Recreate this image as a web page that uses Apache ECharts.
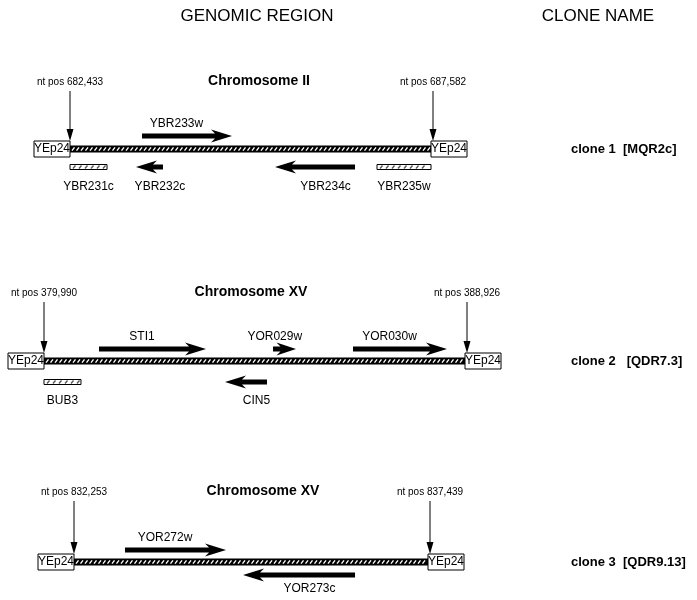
<!DOCTYPE html>
<html>
<head>
<meta charset="utf-8">
<script src="https://cdn.jsdelivr.net/npm/echarts@6/dist/echarts.min.js"></script>
<style>html,body{margin:0;padding:0;background:#fff}#c{width:697px;height:600px}</style>
</head>
<body>
<div id="c"></div>
<script>
// ---------- data ----------
const headers = ['GENOMIC REGION', 'CLONE NAME'];
const cloneNames = ['clone 1  [MQR2c]', 'clone 2   [QDR7.3]', 'clone 3  [QDR9.13]'];
const chromosomeNames = ['Chromosome II', 'Chromosome XV', 'Chromosome XV'];
const insertStart = [682433, 379990, 832253];
const insertEnd = [687582, 388926, 837439];
const vectorName = 'YEp24';
const geneNames  = ['YBR231c','YBR232c','YBR233w','YBR234c','YBR235w','BUB3','STI1','CIN5','YOR029w','YOR030w','YOR272w','YOR273c'];
const geneClone  = [0,0,0,0,0,1,1,1,1,1,2,2];
const geneStart  = [682433,683374,683460,685357,686812,379990,381157,383832,384851,386549,833000,834729];
const geneEnd    = [682961,683759,684744,686498,687582,380775,383429,384723,385339,388544,834480,836370];
const geneStrand = ['c','c','w','c','w','w','w','c','w','w','w','c'];
const genePartial= [true,false,false,false,true,true,false,false,false,false,false,false];

// ---------- layout (pixels) ----------
const layout = [
  {left:70, right:431, lineY:149, titleY:82,  titleX:259, above:-13, below:18, belowLabel:20},
  {left:44, right:465, lineY:361, titleY:293, titleX:251, above:-12, below:21, belowLabel:19},
  {left:74, right:428, lineY:564, titleY:492, titleX:263, above:-12, below:13, belowLabel:14}
];
const FONT = '"Liberation Sans", Arial, Helvetica, sans-serif';

function txt(text, x, y, size, weight, align, valign) {
  return {type:'text', silent:true, style:{text:text, x:x, y:y, fill:'#000',
    font: (weight||'normal') + ' ' + size + 'px ' + FONT,
    align: align||'center', verticalAlign: valign||'middle',
    textAlign: align||'center', textVerticalAlign: valign||'middle'}};
}

function hatch(ch, x0, x1, y, h, step, color, w) {
  for (let x = x0 + 2; x + 2 < x1; x += step) {
    ch.push({type:'line', shape:{x1:x, y1:y + h, x2:x + 2.5, y2:y - h}, style:{stroke:color, lineWidth:w}});
  }
}

function frameRender(ci) {
  return function(params, api) {
    const L = layout[ci];
    const p0 = api.coord([api.value(0), 0]);
    const p1 = api.coord([api.value(1), 0]);
    const y = p0[1];
    const x0 = p0[0], x1 = p1[0];
    const ch = [];
    // backbone
    ch.push({type:'rect', shape:{x:x0, y:y-3.5, width:x1-x0, height:7}, style:{fill:'#000'}});
    hatch(ch, x0, x1, y, 1.6, 4.5, '#fff', 1.4);
    // vector boxes
    ch.push({type:'rect', shape:{x:x0-36, y:y-8, width:36, height:16}, style:{fill:'#fff', stroke:'#000', lineWidth:1}});
    ch.push(txt(vectorName, x0-18, y, 12));
    ch.push({type:'rect', shape:{x:x1, y:y-8, width:36, height:16}, style:{fill:'#fff', stroke:'#000', lineWidth:1}});
    ch.push(txt(vectorName, x1+18, y, 12));
    // position arrows + labels
    [[x0, insertStart[ci]], [x1+2, insertEnd[ci]]].forEach(function(a) {
      const ax = a[0];
      const top = L.titleY + 9, tip = y - 8;
      ch.push({type:'line', shape:{x1:ax, y1:top, x2:ax, y2:tip-10}, style:{stroke:'#000', lineWidth:1}});
      ch.push({type:'polygon', shape:{points:[[ax-3.5, tip-12],[ax+3.5, tip-12],[ax, tip]]}, style:{fill:'#000'}});
      ch.push(txt('nt pos ' + a[1].toLocaleString('en-US'), ax, L.titleY, 10));
    });
    ch.push(txt(chromosomeNames[ci], L.titleX, L.titleY - 1, 14, 'bold'));
    ch.push(txt(cloneNames[ci], 571, y, 13, 'bold', 'left'));
    return {type:'group', children:ch};
  };
}

function geneRender(ci) {
  return function(params, api) {
    const L = layout[ci];
    const gi = api.value(2);
    const a = api.coord([api.value(0), 0]);
    const b = api.coord([api.value(1), 0]);
    const x0 = a[0], x1 = b[0], lineY = a[1];
    const ch = [];
    if (genePartial[gi]) {
      const y = lineY + L.below;
      ch.push({type:'rect', shape:{x:x0, y:y-2.5, width:x1-x0, height:5}, style:{fill:'#fff', stroke:'#000', lineWidth:1}});
      hatch(ch, x0 + 1, x1 - 1, y, 1.5, 6, '#555', 1.3);
      ch.push(txt(geneNames[gi], (x0+x1)/2, lineY + L.below + L.belowLabel, 12));
    } else {
      const fwd = geneStrand[gi] === 'w';
      const y = lineY + (fwd ? L.above : L.below);
      const len = x1 - x0;
      const hl = Math.min(21, len * 0.85);
      const hw = 6.5, sw = 2.6, notch = 4;
      let pts, labelX;
      if (fwd) {
        pts = [[x0,y-sw],[x1-hl+notch,y-sw],[x1-hl,y-hw],[x1,y],[x1-hl,y+hw],[x1-hl+notch,y+sw],[x0,y+sw]];
        labelX = (x0 + x1 - hl) / 2;
        ch.push({type:'polygon', shape:{points:pts}, style:{fill:'#000'}});
        ch.push(txt(geneNames[gi], labelX, y - 12, 12));
      } else {
        pts = [[x1,y-sw],[x0+hl-notch,y-sw],[x0+hl,y-hw],[x0,y],[x0+hl,y+hw],[x0+hl-notch,y+sw],[x1,y+sw]];
        labelX = (x0 + hl + x1) / 2;
        ch.push({type:'polygon', shape:{points:pts}, style:{fill:'#000'}});
        ch.push(txt(geneNames[gi], labelX, y + L.belowLabel, 12));
      }
    }
    return {type:'group', children:ch};
  };
}

const grids = [], xAxes = [], yAxes = [], series = [];
layout.forEach(function(L, ci) {
  grids.push({left:L.left, width:L.right - L.left, top:L.lineY - 40, height:80});
  xAxes.push({type:'value', gridIndex:ci, min:insertStart[ci], max:insertEnd[ci], show:false});
  yAxes.push({type:'value', gridIndex:ci, min:-1, max:1, show:false});
  series.push({type:'custom', xAxisIndex:ci, yAxisIndex:ci, clip:false, silent:true,
    renderItem: frameRender(ci), data:[[insertStart[ci], insertEnd[ci]]], z:1});
  const gd = [];
  geneNames.forEach(function(n, gi) { if (geneClone[gi] === ci) gd.push([geneStart[gi], geneEnd[gi], gi]); });
  series.push({type:'custom', xAxisIndex:ci, yAxisIndex:ci, clip:false, silent:true,
    renderItem: geneRender(ci), data:gd, z:2});
});

const chart = echarts.init(document.getElementById('c'), null, {renderer:'canvas'});
chart.setOption({
  animation:false,
  backgroundColor:'#fff',
  graphic:[
    {type:'text', silent:true, style:{text:headers[0], x:257, y:16, font:'normal 17px ' + FONT, fill:'#000', align:'center', verticalAlign:'middle', textAlign:'center', textVerticalAlign:'middle'}},
    {type:'text', silent:true, style:{text:headers[1], x:598, y:16, font:'normal 17px ' + FONT, fill:'#000', align:'center', verticalAlign:'middle', textAlign:'center', textVerticalAlign:'middle'}}
  ],
  grid:grids, xAxis:xAxes, yAxis:yAxes, series:series
});
</script>
</body>
</html>
